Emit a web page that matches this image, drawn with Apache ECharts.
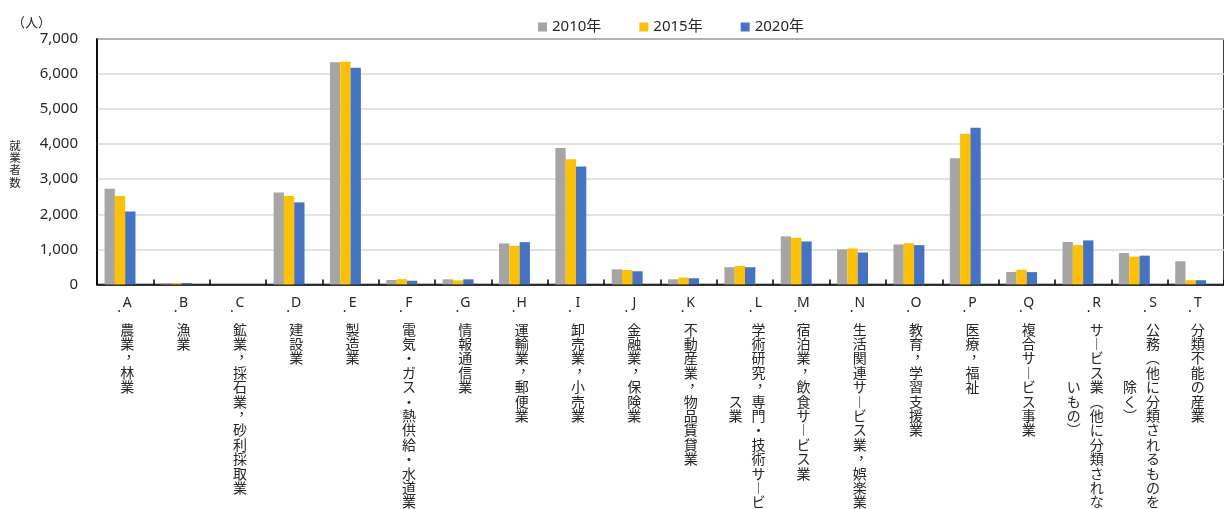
<!DOCTYPE html>
<html>
<head>
<meta charset="utf-8">
<script src="https://cdn.jsdelivr.net/npm/echarts@6/dist/echarts.min.js"></script>
<style>
  html, body { margin: 0; padding: 0; background: #fff; }
  #chart { width: 1224px; height: 509px; }
</style>
</head>
<body>
<div id="chart"></div>
<script>
// 産業大分類別 就業者数（2010年・2015年・2020年）
const categories = [
  'A．農業，林業',
  'B．漁業',
  'C．鉱業，採石業，砂利採取業',
  'D．建設業',
  'E．製造業',
  'F．電気・ガス・熱供給・水道業',
  'G．情報通信業',
  'H．運輸業，郵便業',
  'I．卸売業，小売業',
  'J．金融業，保険業',
  'K．不動産業，物品賃貸業',
  'L．学術研究，専門・技術サービス業',
  'M．宿泊業，飲食サービス業',
  'N．生活関連サービス業，娯楽業',
  'O．教育，学習支援業',
  'P．医療，福祉',
  'Q．複合サービス事業',
  'R．サービス業（他に分類されないもの）',
  'S．公務（他に分類されるものを除く）',
  'T．分類不能の産業'
];

const seriesNames = ['2010年', '2015年', '2020年'];

const workers2010 = [2730, 40, 0, 2620, 6340, 125, 145, 1170, 3890, 430, 145, 490, 1370, 1000, 1140, 3600, 355, 1210, 895, 660];
const workers2015 = [2520, 35, 0, 2520, 6350, 150, 115, 1100, 3570, 410, 195, 525, 1330, 1025, 1175, 4300, 420, 1120, 790, 120];
const workers2020 = [2080, 40, 0, 2340, 6180, 105, 145, 1205, 3365, 375, 175, 490, 1225, 910, 1120, 4470, 350, 1255, 820, 120];

const yMin = 0;
const yMax = 7000;
const yStep = 1000;

const colors = ['#A5A5A5', '#FFC000', '#4472C4'];

const LATIN = "'Noto Sans', 'Noto Sans CJK JP', sans-serif";
const CJK = "'Noto Sans CJK JP', 'Noto Sans', sans-serif";
const TEXT = '#262626';

// 縦書き用の字形
const VERT = { '，': '︐', '（': '︵', '）': '︶', 'ー': '︱' };
const PER_COLUMN = 13;

function tok(c) {
  // 読点は字送りの中央付近へ寄せる
  if (c === '︐') return '{cm|' + c + '}{cq| }';
  return '{k|' + c + '}';
}

// ラベルを縦書き（1列13字、あふれた分は左の列へ）に組む
function verticalLabel(text) {
  const chars = Array.from(text);
  const head = chars[0];
  const body = chars.slice(2).map(c => VERT[c] || c);
  const col1 = body.slice(0, PER_COLUMN);
  const col2 = body.slice(PER_COLUMN);
  const two = col2.length > 0;
  const start = two ? Math.ceil((11 - col2.length) / 2) : 0;
  const lines = [];
  lines.push((two ? '{e|　}' : '') + '{dt|.}{ltr|' + head + '}{pd| }');
  col1.forEach((c, i) => {
    let left = '';
    if (two) {
      const j = i - start;
      left = (j >= 0 && j < col2.length) ? tok(col2[j]) : '{k|　}';
    }
    lines.push(left + tok(c));
  });
  return lines.join('\n');
}

function barSeries(name, data, color) {
  return {
    name: name,
    type: 'bar',
    data: data,
    barWidth: 10.3,
    barGap: '0%',
    itemStyle: { color: color },
    emphasis: { disabled: true }
  };
}

const chart = echarts.init(document.getElementById('chart'), null, { renderer: 'canvas' });

chart.setOption({
  animation: false,
  backgroundColor: '#ffffff',
  textStyle: { fontFamily: LATIN },
  grid: {
    left: 97,
    top: 39,
    right: -10,
    bottom: 224,
    show: true,
    borderColor: '#000000',
    borderWidth: 1.5,
    containLabel: false
  },
  legend: {
    data: seriesNames,
    left: 533,
    top: 13,
    itemWidth: 9,
    itemHeight: 9,
    itemGap: 38,
    icon: 'rect',
    textStyle: { fontSize: 15, color: TEXT, fontFamily: LATIN, lineHeight: 18 }
  },
  xAxis: {
    type: 'category',
    data: categories,
    axisLine: { show: true, lineStyle: { color: '#000000', width: 1.5 } },
    axisTick: { show: true, inside: true, length: 5, alignWithLabel: false, lineStyle: { color: '#000000', width: 1.5 } },
    axisLabel: {
      interval: 0,
      margin: 0,
      align: 'center',
      verticalAlign: 'top',
      padding: [0, 0, 0, 4],
      color: TEXT,
      formatter: verticalLabel,
      rich: {
        k: { width: 23, align: 'center', fontSize: 14, lineHeight: 14.4, fontFamily: CJK, color: TEXT },
        cm: { width: 19, align: 'center', fontSize: 14, lineHeight: 14.4, padding: [7, 0, 0, 0], fontFamily: CJK, color: TEXT },
        cq: { width: 4, fontSize: 14, lineHeight: 14.4 },
        e: { width: 23, fontSize: 14, lineHeight: 37.6, fontFamily: CJK },
        dt: { width: 7, align: 'right', fontSize: 14, lineHeight: 37.6, padding: [9, 0, 0, 0], fontFamily: LATIN, color: TEXT },
        ltr: { width: 9, align: 'center', fontSize: 14, lineHeight: 37.6, fontFamily: LATIN, color: TEXT },
        pd: { width: 7, fontSize: 14, lineHeight: 37.6 }
      }
    },
    splitLine: { show: false }
  },
  yAxis: {
    type: 'value',
    min: yMin,
    max: yMax,
    interval: yStep,
    axisLine: { show: true, lineStyle: { color: '#000000', width: 1.5 } },
    axisTick: { show: false },
    axisLabel: {
      margin: 19,
      fontSize: 15,
      color: TEXT,
      fontFamily: LATIN,
      formatter: v => v.toLocaleString('en-US')
    },
    splitLine: { show: true, lineStyle: { color: '#D9D9D9', width: 1.5 } }
  },
  graphic: [
    {
      type: 'text',
      left: 12,
      top: 16,
      style: { text: '（人）', fontSize: 13, fill: TEXT, fontFamily: CJK }
    },
    {
      type: 'text',
      x: 15,
      y: 139,
      style: {
        text: '就業者数'.split('').join('\n'),
        fontSize: 11.5,
        lineHeight: 12.4,
        align: 'center',
        verticalAlign: 'top',
        fill: TEXT,
        fontFamily: CJK
      }
    }
  ],
  series: [
    barSeries(seriesNames[0], workers2010, colors[0]),
    barSeries(seriesNames[1], workers2015, colors[1]),
    barSeries(seriesNames[2], workers2020, colors[2]),
    // 空き枠（各カテゴリ内で4本分の幅を確保）
    { name: 'spacer', type: 'bar', data: [], barWidth: 10.3, barGap: '0%', silent: true }
  ]
});
</script>
</body>
</html>
